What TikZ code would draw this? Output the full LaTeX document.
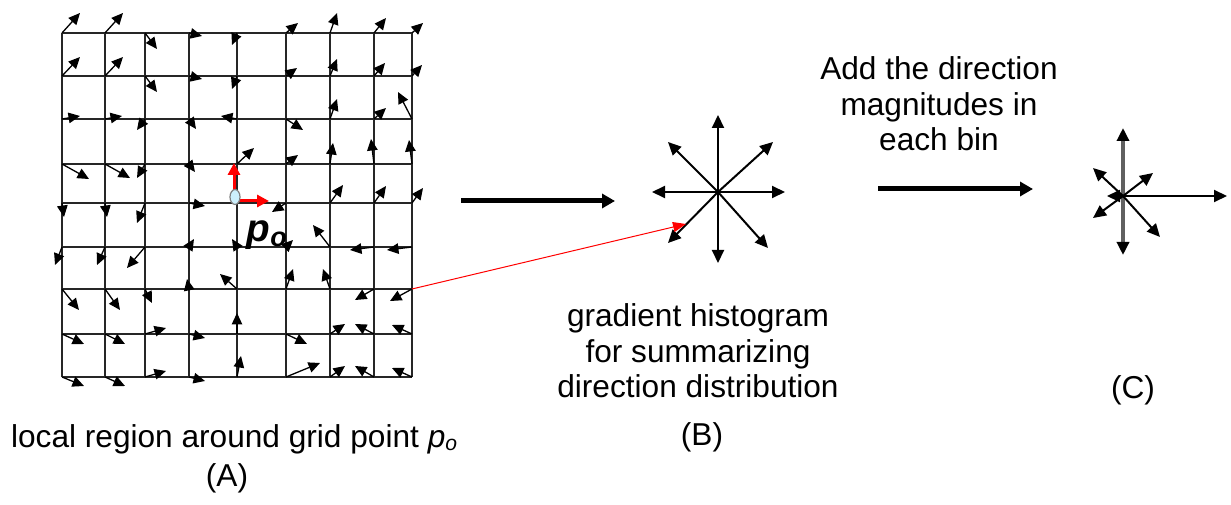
\documentclass[tikz,border=0pt]{standalone}
\usepackage{fontspec}
\setmainfont{Liberation Sans}
\usetikzlibrary{arrows.meta}

\begin{document}
\begin{tikzpicture}[
    x=0.1mm, y=-0.1mm,
    mesh/.style={line width=0.2mm, black!85},
    vec/.style={line width=0.13mm, -{Triangle[length=1.15mm,width=1.05mm]}},
    bin/.style={line width=0.2mm, -{Triangle[length=1.3mm,width=1.2mm]}},
    flow/.style={line width=0.5mm, -{Triangle[length=1.3mm,width=1.4mm]}},
    link/.style={red, line width=0.1mm, -{Triangle[length=1.3mm,width=1mm]}},
    axis/.style={red, line width=0.3mm, -{Triangle[length=1.2mm,width=1.2mm]}},
    txt/.style={font=\fontsize{9}{10.1}\selectfont, inner sep=0pt}
]
\useasboundingbox (0,0) rectangle (1231,505);

% grid points
\foreach \x [count=\i] in {62,105,145,189,237,286,330,374,412}
  \foreach \y [count=\j] in {33,76,119,164,203,247,289,334,377}
    \coordinate (g\i-\j) at (\x,\y);

% local region
\foreach \i in {1,...,9} {
  \draw[mesh] (g\i-1) -- (g\i-9);
  \draw[mesh] (g1-\i) -- (g9-\i);
}

% gradient at each grid point
\foreach \i/\j/\u/\v in {
    1/1/18/-20, 2/1/18/-20, 3/1/12/16, 4/1/13/3, 5/1/-5/12,
    6/1/12/-10, 7/1/7/-20, 8/1/12/-15, 9/1/11/-10,
    1/2/18/-19, 2/2/18/-19, 3/2/12/16, 4/2/13/3, 5/2/-5/13,
    6/2/11/-8, 7/2/7/-17, 8/2/11/-13, 9/2/10/-11,
    1/3/18/-3, 2/3/17/-3, 3/3/-8/11, 4/3/7/10, 5/3/-16/-3,
    6/3/17/11, 7/3/7/-20, 8/3/12/-11, 9/3/-14/-27,
    1/4/27/15, 2/4/25/14, 3/4/-8/14, 4/4/6/8, 5/4/17/-16,
    6/4/12/-9, 7/4/3/-21, 8/4/-3/-25, 9/4/-3/-24,
    1/5/2/14, 2/5/2/14, 3/5/-8/20, 4/5/16/3,
    6/5/-14/9, 7/5/13/-18, 8/5/12/-17, 9/5/11/-15,
    1/6/-7/18, 2/6/-8/18, 3/6/-18/21, 4/6/5/-8, 5/6/-5/-8,
    6/6/7/-7, 7/6/-17/-22, 8/6/-24/3, 9/6/-25/3,
    1/7/17/21, 2/7/15/21, 3/7/7/14, 4/7/-2/-10, 5/7/-17/-15,
    6/7/7/-20, 7/7/-7/-20, 8/7/-19/11, 9/7/-22/12,
    1/8/22/10, 2/8/20/10, 3/8/21/-6, 4/8/16/4, 5/8/0/-21,
    6/8/21/10, 7/8/15/-10, 8/8/-19/-10, 9/8/-20/-9,
    1/9/22/9, 2/9/20/9, 3/9/21/-6, 4/9/16/4, 5/9/4/-21,
    6/9/34/-14, 7/9/15/-11, 8/9/-19/-11, 9/9/-20/-9}
  \draw[vec] (g\i-\j) -- ++(\u,\v);

% p_o with its axes
\coordinate (po) at (234,201);
\draw[axis] (po) -- ++(0,-38);
\draw[axis] (po) -- ++(35,0);
\draw[gray, fill=cyan!20, line width=0.12mm] (235,197) ellipse [x radius=5, y radius=7.5];
\node[anchor=base west, inner sep=0pt, font=\fontsize{11}{11}\selectfont\bfseries\itshape] (plabel) at (246,241) {p\textsubscript{o}};

% histogram (B)
\coordinate (hb) at (718,192);
\foreach \u/\v in {0/-77, 0/71, -66/0, 67/0, 55/-50, -50/-50, -50/51, 50/56}
  \draw[bin] (hb) -- ++(\u,\v);
\coordinate (hit) at (686,224);
\draw[link] (g9-7) -- (hit);

% arrows between the steps
\coordinate (f1s) at (461,201);
\coordinate (f1e) at (615,201);
\draw[flow] (f1s) -- (f1e);
\coordinate (f2s) at (878,189);
\coordinate (f2e) at (1033,189);
\draw[flow] (f2s) -- (f2e);

% summed histogram (C)
\coordinate (hc) at (1123,196);
\draw[gray!75!black, line width=0.35mm, -{Triangle[length=1.3mm,width=1.2mm,color=black]}] (hc) -- ++(0,-68);
\draw[gray!75!black, line width=0.35mm, -{Triangle[length=1.3mm,width=1.2mm,color=black]}] (hc) -- ++(0,59);
\foreach \u/\v in {104/0, -16/0, -30/-28, 30/-23, -30/22, 37/41}
  \draw[bin] (hc) -- ++(\u,\v);

% texts
\node[txt, anchor=base] (capA) at (235,447) {local region around grid point \textit{p}\textsubscript{\itshape o}};
\node[txt, anchor=base] (labA) at (227,486) {(A)};
\node[txt, anchor=north, align=center] (capB) at (698,303) {gradient histogram\\for summarizing\\direction distribution};
\node[txt, anchor=base] (labB) at (702,445) {(B)};
\node[txt, anchor=north, align=center] (capC) at (939,56) {Add the direction\\magnitudes in\\each bin};
\node[txt, anchor=base] (labC) at (1133,398) {(C)};

\end{tikzpicture}
\end{document}
